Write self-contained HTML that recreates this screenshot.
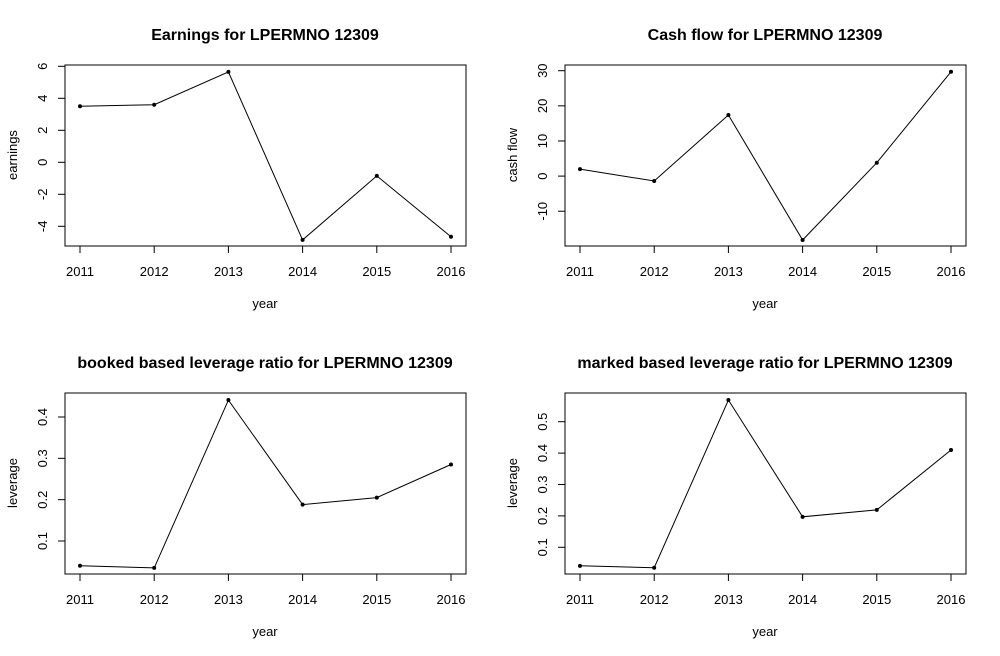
<!DOCTYPE html>
<html><head><meta charset="utf-8"><style>
html,body{margin:0;padding:0;background:#fff;}
svg{display:block;font-family:"Liberation Sans",Arial,sans-serif;}
</style></head><body>
<svg id="fig" width="1000" height="656" viewBox="0 0 1000 656"></svg>
<script>
const years = [2011, 2012, 2013, 2014, 2015, 2016];
const earnings = [3.5, 3.6, 5.65, -4.85, -0.85, -4.65];
const cashflow = [2.0, -1.4, 17.4, -18.2, 3.8, 29.7];
const bookLev = [0.040, 0.035, 0.441, 0.188, 0.205, 0.285];
const markLev = [0.041, 0.035, 0.569, 0.197, 0.219, 0.410];
const earnTicks = [-4, -2, 0, 2, 4, 6];
const cashTicks = [-10, 0, 10, 20, 30];
const bookTicks = [0.1, 0.2, 0.3, 0.4];
const markTicks = [0.1, 0.2, 0.3, 0.4, 0.5];
const earnTickLabels = ["-4", "-2", "0", "2", "4", "6"];
const cashTickLabels = ["-10", "0", "10", "20", "30"];
const bookTickLabels = ["0.1", "0.2", "0.3", "0.4"];
const markTickLabels = ["0.1", "0.2", "0.3", "0.4", "0.5"];

const NS = "http://www.w3.org/2000/svg";
const svg = document.getElementById("fig");
function mk(tag, attrs, parent) {
  const e = document.createElementNS(NS, tag);
  for (const k in attrs) e.setAttribute(k, attrs[k]);
  (parent || svg).appendChild(e);
  return e;
}

function panel(ox, oy, title, ylab, vals, ticks, tickLabels, yRef, prefix) {
  const L = ox + 65, R = ox + 466, T = oy + 65, B = oy + 246;
  const g = mk("g", {});
  
  
  const xs = v => ox + 80 + (v - years[0]) * (451 - 80) / (years[years.length - 1] - years[0]);
  const ys = v => oy + yRef[1] + (v - yRef[0]) * (yRef[3] - yRef[1]) / (yRef[2] - yRef[0]);

  const t = mk("text", {x: ox + 265, y: oy + 40, "text-anchor": "middle", "font-size": "16", "font-weight": "bold"}, g);
  t.textContent = title;
  
  

  const box = mk("rect", {x: L, y: T, width: R - L, height: B - T, fill: "none", stroke: "#000", "stroke-width": "1"}, g);
  
  

  const xa = mk("g", {}, g);
  
  
  mk("line", {x1: xs(years[0]), x2: xs(years[years.length - 1]), y1: B, y2: B, stroke: "#000"}, xa);
  years.forEach(yv => {
    mk("line", {x1: xs(yv), x2: xs(yv), y1: B, y2: B + 7, stroke: "#000"}, xa);
    const tl = mk("text", {x: xs(yv), y: B + 30, "text-anchor": "middle", "font-size": "13"}, xa);
    tl.textContent = yv;
    
    
  });
  const xl = mk("text", {x: ox + 265, y: oy + 308, "text-anchor": "middle", "font-size": "13"}, g);
  xl.textContent = "year";
  
  

  const ya = mk("g", {}, g);
  
  
  mk("line", {x1: L, x2: L, y1: ys(ticks[0]), y2: ys(ticks[ticks.length - 1]), stroke: "#000"}, ya);
  ticks.forEach((tv, i) => {
    const py = ys(tv);
    mk("line", {x1: L - 7, x2: L, y1: py, y2: py, stroke: "#000"}, ya);
    const tl = mk("text", {x: ox + 47, y: py, "text-anchor": "middle", "font-size": "13", transform: "rotate(-90 " + (ox + 47) + " " + py + ")"}, ya);
    tl.textContent = tickLabels[i];
    
    
  });
  const cy = oy + 155;
  const yl = mk("text", {x: ox + 17, y: cy, "text-anchor": "middle", "font-size": "13", transform: "rotate(-90 " + (ox + 17) + " " + cy + ")"}, g);
  yl.textContent = ylab;
  
  

  const pts = vals.map((v, i) => xs(years[i]).toFixed(1) + "," + ys(v).toFixed(1)).join(" ");
  const line = mk("polyline", {points: pts, fill: "none", stroke: "#000", "stroke-width": "1"}, g);
  
  
  vals.forEach((v, i) => {
    const c = mk("circle", {cx: xs(years[i]), cy: ys(v), r: 2, fill: "#000"}, g);
    
    
  });
}

panel(0, 0, "Earnings for LPERMNO 12309", "earnings", earnings, earnTicks, earnTickLabels, [0, 162.3, 6, 66.3], "earnings");
panel(500, 0, "Cash flow for LPERMNO 12309", "cash flow", cashflow, cashTicks, cashTickLabels, [0, 176.1, 30, 70.7], "cash-flow");
panel(0, 328, "booked based leverage ratio for LPERMNO 12309", "leverage", bookLev, bookTicks, bookTickLabels, [0.1, 213, 0.4, 89], "book-leverage");
panel(500, 328, "marked based leverage ratio for LPERMNO 12309", "leverage", markLev, markTicks, markTickLabels, [0.1, 219.3, 0.5, 93.7], "market-leverage");
</script>
</body></html>
